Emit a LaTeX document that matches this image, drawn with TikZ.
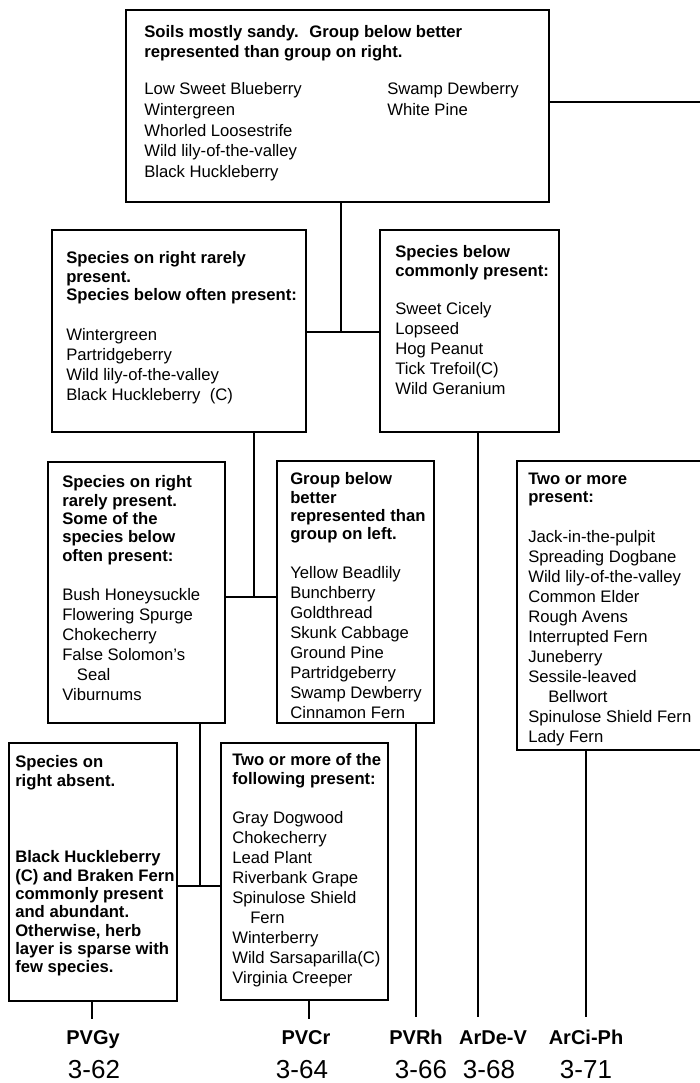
\documentclass[tikz,border=0pt]{standalone}
\usepackage{fontspec}
\setmainfont{Liberation Sans}
\usetikzlibrary{fit}
\begin{document}
\begin{tikzpicture}[x=0.75pt,y=-0.75pt,
  box/.style={draw,line width=1pt,rectangle,inner sep=0pt},
  head/.style={anchor=north west,inner sep=0pt,align=left,font=\fontsize{12.5}{13.75}\selectfont\bfseries},
  list/.style={anchor=north west,inner sep=0pt,align=left,font=\fontsize{12.5}{15}\selectfont},
  link/.style={line width=1pt},
  code/.style={anchor=base,inner sep=0pt,font=\fontsize{15}{18}\selectfont\bfseries},
  pagenum/.style={anchor=base,inner sep=0pt,font=\fontsize{19.5}{22}\selectfont}]
\useasboundingbox (0,0) rectangle (700,1083);

% ---- boxes ----
\node[box,fit={(126,10) (549,202)}] (A) {};
\node[box,fit={(52,230) (306,432)}] (B) {};
\node[box,fit={(380,230) (559,432)}] (C) {};
\node[box,fit={(48,462) (225,723)}] (D) {};
\node[box,fit={(277,461) (434,723)}] (E) {};
\node[box,fit={(517,461) (706,750)}] (F) {};
\node[box,fit={(9,743) (177,1001)}] (G) {};
\node[box,fit={(221,743) (388,1000)}] (H) {};

% ---- box texts ----
\node[head,font=\fontsize{12.5}{15}\selectfont\bfseries] (Ah) at (144,25.5)
  {Soils mostly sandy.~ Group below better\\represented than group on right.};
\node[list,font=\fontsize{12.5}{15.5}\selectfont] (Al) at (144,82.5)
  {Low Sweet Blueberry\\Wintergreen\\Whorled Loosestrife\\Wild lily-of-the-valley\\Black Huckleberry};
\node[list,font=\fontsize{12.5}{15.5}\selectfont] (Ar) at (387,82.5)
  {Swamp Dewberry\\White Pine};

\node[head] (Bh) at (66,251.5)
  {Species on right rarely\\present.\\Species below often present:};
\node[list] (Bl) at (66,328.5)
  {Wintergreen\\Partridgeberry\\Wild lily-of-the-valley\\Black Huckleberry~ (C)};

\node[head] (Ch) at (395,245.5)
  {Species below\\commonly present:};
\node[list] (Cl) at (395,302.5)
  {Sweet Cicely\\Lopseed\\Hog Peanut\\Tick Trefoil(C)\\Wild Geranium};

\node[head] (Dh) at (62,475.5)
  {Species on right\\rarely present.\\Some of the\\species below\\often present:};
\node[list] (Dl) at (62,588.5)
  {Bush Honeysuckle\\Flowering Spurge\\Chokecherry\\False Solomon's\\\hspace*{11pt}Seal\\Viburnums};

\node[head] (Eh) at (290,472.5)
  {Group below\\better\\represented than\\group on left.};
\node[list] (El) at (290,566.5)
  {Yellow Beadlily\\Bunchberry\\Goldthread\\Skunk Cabbage\\Ground Pine\\Partridgeberry\\Swamp Dewberry\\Cinnamon Fern};

\node[head] (Fh) at (528,472.5)
  {Two or more\\present:};
\node[list] (Fl) at (528,530.5)
  {Jack-in-the-pulpit\\Spreading Dogbane\\Wild lily-of-the-valley\\Common Elder\\Rough Avens\\Interrupted Fern\\Juneberry\\Sessile-leaved\\\hspace*{15pt}Bellwort\\Spinulose Shield Fern\\Lady Fern};

\node[head] (Gh) at (15,755.5)
  {Species on\\right absent.};
\node[head] (Gl) at (15,850.5)
  {Black Huckleberry\\(C) and Braken Fern\\commonly present\\and abundant.\\Otherwise, herb\\layer is sparse with\\few species.};

\node[head] (Hh) at (232,753.5)
  {Two or more of the\\following present:};
\node[list] (Hl) at (232,811.5)
  {Gray Dogwood\\Chokecherry\\Lead Plant\\Riverbank Grape\\Spinulose Shield\\\hspace*{13.5pt}Fern\\Winterberry\\Wild Sarsaparilla(C)\\Virginia Creeper};

% ---- connectors ----
\coordinate (aOut) at (700,102);
\draw[link] (A.east |- aOut) -- (aOut);

\coordinate (j1) at (341,332);
\draw[link] (j1 |- A.south) -- (j1);
\draw[link] (B.east |- j1) -- (C.west |- j1);

\coordinate (j2) at (254,597);
\draw[link] (j2 |- B.south) -- (j2);
\draw[link] (D.east |- j2) -- (E.west |- j2);

\coordinate (j3) at (200,886);
\draw[link] (j3 |- D.south) -- (j3);
\draw[link] (G.east |- j3) -- (H.west |- j3);

% ---- leads down to the unit codes ----
\coordinate (tG) at (92,1019);
\coordinate (tH) at (309,1019);
\coordinate (tE) at (416,1017);
\coordinate (tC) at (478,1017);
\coordinate (tF) at (586,1017);
\draw[link] (tG |- G.south) -- (tG);
\draw[link] (tH |- H.south) -- (tH);
\draw[link] (tE |- E.south) -- (tE);
\draw[link] (tC |- C.south) -- (tC);
\draw[link] (tF |- F.south) -- (tF);

% ---- unit codes and page numbers ----
\node[code] (cG) at (93,1044) {PVGy};
\node[code] (cH) at (306,1044) {PVCr};
\node[code] (cE) at (416,1044) {PVRh};
\node[code] (cC) at (493,1044) {ArDe-V};
\node[code] (cF) at (586,1044) {ArCi-Ph};

\node[pagenum] (pG) at (94,1078) {3-62};
\node[pagenum] (pH) at (302,1078) {3-64};
\node[pagenum] (pE) at (421,1078) {3-66};
\node[pagenum] (pC) at (489,1078) {3-68};
\node[pagenum] (pF) at (586,1078) {3-71};
\end{tikzpicture}
\end{document}
